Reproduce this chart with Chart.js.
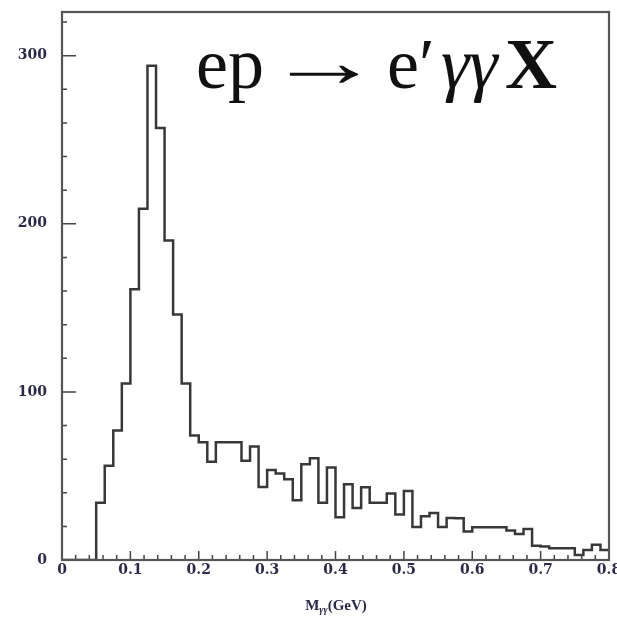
<!DOCTYPE html>
<html>
<head>
<meta charset="utf-8">
<script src="https://cdn.jsdelivr.net/npm/chart.js@4.4.1/dist/chart.umd.min.js"></script>
<style>
html, body { margin:0; padding:0; background:#fff; }
#wrap { position:relative; width:617px; height:623px; overflow:hidden; }
#grafico { position:absolute; left:0; top:0; }
.reacao span, .reacao b {
    position:absolute; top:28px;
    font-family:"Liberation Serif", "DejaVu Serif", serif;
    font-size:72px; color:#111; white-space:nowrap; line-height:1;
}
.reacao .seta { display:inline-block; transform:scaleX(1.6); transform-origin:left center; top:26px; }
.reacao .g { font-style:italic; }
.titulo-x {
    position:absolute; left:0; width:672px; top:597px; text-align:center;
    font-family:"Liberation Serif", serif; font-weight:bold;
    font-size:15px; color:#2a2a48; white-space:nowrap;
}
.titulo-x sub { font-size:10px; font-style:italic; vertical-align:-3px; }
</style>
</head>
<body>
<div id="wrap">
    <canvas id="grafico" width="617" height="623"></canvas>
    <div class="reacao">
        <span style="left:196px">ep</span>
        <span class="seta" style="left:266px">&rarr;</span>
        <span style="left:387px">e&prime;</span>
        <span class="g" style="left:441px">&gamma;&gamma;</span>
        <b style="left:505px">X</b>
    </div>
    <div class="titulo-x">M<sub>&gamma;&gamma;</sub>(GeV)</div>
</div>
<script>
// ==========================
// DADOS
// ==========================
const larguraBin = 0.0125;   // GeV, 64 bins de 0 a 0.8

const contagens = [
    0, 0, 0, 0, 34, 56, 77, 105, 161, 209, 294, 257, 190, 146, 105, 74,
    70, 58.5, 70, 70, 70, 59, 67.5, 43.5,
    53.5, 51.5, 48, 35.5, 57, 60.5, 34, 55,
    25.5, 45, 31, 43.3, 34, 34, 39.5, 27,
    41, 19.7, 26, 28, 19.7, 25, 24.8, 17,
    19.5, 19.5, 19.5, 19.5, 17.5, 15.5, 18.5, 8.5,
    8, 7, 7, 7, 3, 6, 9, 6
];

const ticksX = [0, 0.1, 0.2, 0.3, 0.4, 0.5, 0.6, 0.7, 0.8];
const rotulosX = ["0", "0.1", "0.2", "0.3", "0.4", "0.5", "0.6", "0.7", "0.8"];
const ticksY = [0, 100, 200, 300];

// pontos na borda esquerda de cada bin + fechamento em 0.8
const pontos = contagens.map((c, i) => ({ x: i * larguraBin, y: c }));
pontos.push({ x: contagens.length * larguraBin, y: contagens[contagens.length - 1] });

// ==========================
// TICKS INTERNOS + MOLDURA
// ==========================
const moldura = {
    id: "moldura",
    afterDraw(chart){
        const { ctx, chartArea: a, scales: { x, y } } = chart;
        ctx.save();
        ctx.strokeStyle = "#444";
        ctx.lineWidth = 1.5;
        ctx.beginPath();
        for (let k = 0; k <= 40; k++) {
            const px = x.getPixelForValue(k * 0.02);
            const len = (k % 5 === 0) ? 9 : 5;
            ctx.moveTo(px, a.bottom);
            ctx.lineTo(px, a.bottom - len);
        }
        for (let k = 0; k <= 16; k++) {
            const py = y.getPixelForValue(k * 20);
            const len = (k % 5 === 0) ? 14 : 5;
            ctx.moveTo(a.left, py);
            ctx.lineTo(a.left + len, py);
        }
        ctx.stroke();
        ctx.lineWidth = 2.2;
        ctx.strokeStyle = "#555";
        ctx.strokeRect(a.left, a.top, a.right - a.left, a.bottom - a.top);
        ctx.restore();
    }
};

// ==========================
// GRAFICO
// ==========================
const fonteTick = {
    family: "'DejaVu Serif', serif",
    size: 14,
    weight: "bold"
};

new Chart(document.getElementById("grafico"), {
    type: "line",
    data: {
        datasets: [{
            data: pontos,
            stepped: true,
            borderColor: "#383838",
            borderWidth: 2.5,
            pointRadius: 0,
            fill: false
        }]
    },
    options: {
        responsive: false,
        animation: false,
        layout: { padding: { top: 12, right: 8, left: 0, bottom: 0 } },
        plugins: { legend: { display: false }, tooltip: { enabled: false } },
        scales: {
            x: {
                type: "linear",
                min: 0,
                max: 0.8,
                grid: { display: false, drawTicks: false },
                border: { display: false },
                afterBuildTicks: s => { s.ticks = ticksX.map(v => ({ value: v })); },
                afterFit: s => { s.height = 63; s.paddingLeft = 0; s.paddingRight = 0; },
                ticks: {
                    autoSkip: false,
                    maxRotation: 0,
                    padding: 2,
                    color: "#2a2a48",
                    font: fonteTick,
                    callback: (v, i) => rotulosX[i]
                }
            },
            y: {
                min: 0,
                max: 326,
                grid: { display: false, drawTicks: false },
                border: { display: false },
                afterBuildTicks: s => { s.ticks = ticksY.map(v => ({ value: v })); },
                afterFit: s => { s.width = 62; s.paddingTop = 0; s.paddingBottom = 0; },
                ticks: {
                    padding: 15,
                    color: "#2a2a48",
                    font: fonteTick
                }
            }
        }
    },
    plugins: [moldura]
});
</script>
</body>
</html>
